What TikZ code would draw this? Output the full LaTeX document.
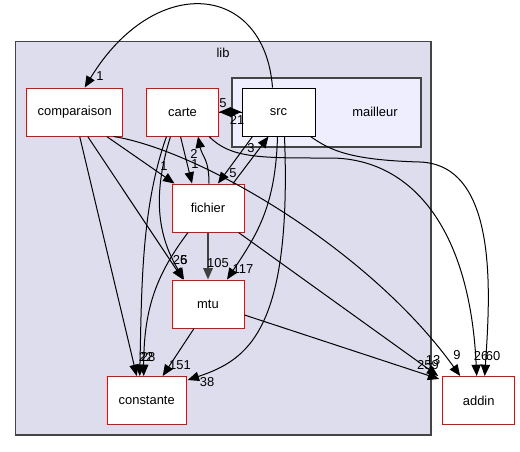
\documentclass[tikz,border=0pt]{standalone}
\usepackage{fontspec}
\setmainfont{Liberation Sans}
\usetikzlibrary{arrows.meta,calc}

\begin{document}
\begin{tikzpicture}[x=0.75pt,y=-0.75pt,
    every node/.style={font=\fontsize{9.7}{11}\selectfont},
    dirbox/.style={draw={rgb,255:red,255; green,0; blue,0},fill=white,line width=0.75pt,minimum width=54pt,minimum height=36pt,inner sep=0pt},
    dep/.style={line width=0.75pt,-{Triangle[length=8.5pt,width=7pt]}},
    heavy/.style={line width=1.4pt,color={rgb,255:red,64; green,64; blue,64}},
    num/.style={inner sep=0pt}]
    \useasboundingbox (0,0) rectangle (520,451);

    %#lib
    \draw[line width=1pt,color={rgb,255:red,68; green,68; blue,68},fill={rgb,255:red,221; green,221; blue,238}] (15.5,41.5) rectangle (431,435);
    \node (lib) at (223,53) {lib};
    \draw[line width=1pt,color={rgb,255:red,68; green,68; blue,68},fill={rgb,255:red,238; green,238; blue,255}] (232,78) rectangle (421,147);
    \node (mailleur) at (375,112) {mailleur};

    \node[dirbox,minimum width=72pt] (comparaison) at (74.7,112) {comparaison};
    \node[dirbox] (carte) at (182.5,112) {carte};
    \node[dirbox,draw=black,minimum width=54.75pt] (src) at (278.5,112) {src};
    \node[dirbox] (fichier) at (208,208) {fichier};
    \node[dirbox] (mtu) at (208,304) {mtu};
    \node[dirbox,minimum width=59.25pt] (constante) at (146.7,400.5) {constante};
    \node[dirbox] (addin) at (478.7,400.5) {addin};
    \coordinate (cbend) at (330,158);
    \coordinate (sbend) at (420,162);

    %#edges
    \draw[dep] ($(src.north)+(-6,0)$) .. controls +(-8,-105) and +(70,-115) .. ($(comparaison.north)+(10,0)$);
    \draw[dep] (carte.east) -- (src.west);
    \draw[dep] (src.west) -- (carte.east);
    \draw[dep] ($(carte.south)+(-2,0)$) -- ($(fichier.north)+(-16,0)$);
    \draw[dep] ($(fichier.north)+(1,0)$) .. controls +(0,-25) and +(4,20) .. ($(carte.south)+(15.5,0)$);
    \draw[dep] ($(comparaison.south)+(32,0)$) -- ($(fichier.north west)+(3,0)$);
    \draw[dep] ($(src.south)+(-26,0)$) -- ($(fichier.north)+(10,0)$);
    \draw[dep] ($(fichier.north)+(25,0)$) -- ($(src.south)+(-10,0)$);
    \draw[dep] ($(comparaison.south)+(13,0)$) -- ($(mtu.north)+(-25,0)$);
    \draw[dep] ($(carte.south)+(-12,0)$) .. controls +(-20,64) and +(-24,-40) .. ($(mtu.north)+(-24,0)$);
    \draw[dep] ($(carte.south)+(-16,0)$) .. controls +(-25,70) and +(2,-90) .. ($(constante.north)+(-7,0)$);
    \draw[dep] ($(fichier.south)+(-20,0)$) .. controls +(-30,40) and +(0,-70) .. ($(constante.north)+(-3,0)$);
    \draw[dep] ($(comparaison.south)+(5,0)$) -- ($(constante.north)+(-10,0)$);
    \draw[dep,heavy] (fichier) -- (mtu);
    \draw[dep] ($(src.south)+(-1,0)$) .. controls +(-2,70) and +(30,-45) .. ($(mtu.north)+(19,0)$);
    \draw[dep] ($(src.south)+(6,0)$) .. controls +(7.5,194) and +(60,-20) .. ($(constante.north east)+(1,4)$);
    \draw[dep] ($(mtu.south)+(-14,0)$) -- ($(constante.north)+(16,0)$);
    \draw[dep] ($(comparaison.south)+(39,0)$) .. controls +(86,14) and +(-91,-127) .. ($(addin.north west)+(18,0)$);
    \draw[dep] ($(carte.south east)+(-10,0)$) .. controls +(22,22) and +(-70,0) .. (cbend) .. controls +(80,0) and +(-7,-150) .. ($(addin.north)+(-2,0)$);
    \draw[dep] ($(src.south east)+(-5,0)$) .. controls +(20,14) and +(-70,-2) .. (sbend) .. controls +(80,3) and +(5,-77) .. ($(addin.north)+(6,0)$);
    \draw[dep] ($(fichier.south east)+(-6,0)$) -- ($(addin.north west)+(-4,0)$);
    \draw[dep] ($(mtu.east)+(0,11)$) -- ($(addin.north west)+(-3,3)$);

    %#numbers
    \node[num] (n1) at (100,76) {1};
    \node[num] (n5a) at (223,103) {5};
    \node[num] (n21) at (237,120) {21};
    \node[num] (n2) at (194,154) {2};
    \node[num] (n1b) at (195,164) {1};
    \node[num] (n1c) at (164,166) {1};
    \node[num] (n5b) at (233,173) {5};
    \node[num] (n3) at (251,148) {3};
    \node[num] (n26a) at (180,260) {26};
    \node[num] (n5c) at (184,260) {5};
    \node[num] (n105) at (218,263) {105};
    \node[num] (n117) at (243,269) {117};
    \node[num] (n22) at (146,357) {22};
    \node[num] (n28) at (148,357) {28};
    \node[num] (n151) at (180,365) {151};
    \node[num] (n38) at (207,382) {38};
    \node[num] (n259) at (428,365) {259};
    \node[num] (n13) at (433,360) {13};
    \node[num] (n9) at (457,355) {9};
    \node[num] (n26b) at (481,356) {26};
    \node[num] (n60) at (493,356) {60};
\end{tikzpicture}
\end{document}
